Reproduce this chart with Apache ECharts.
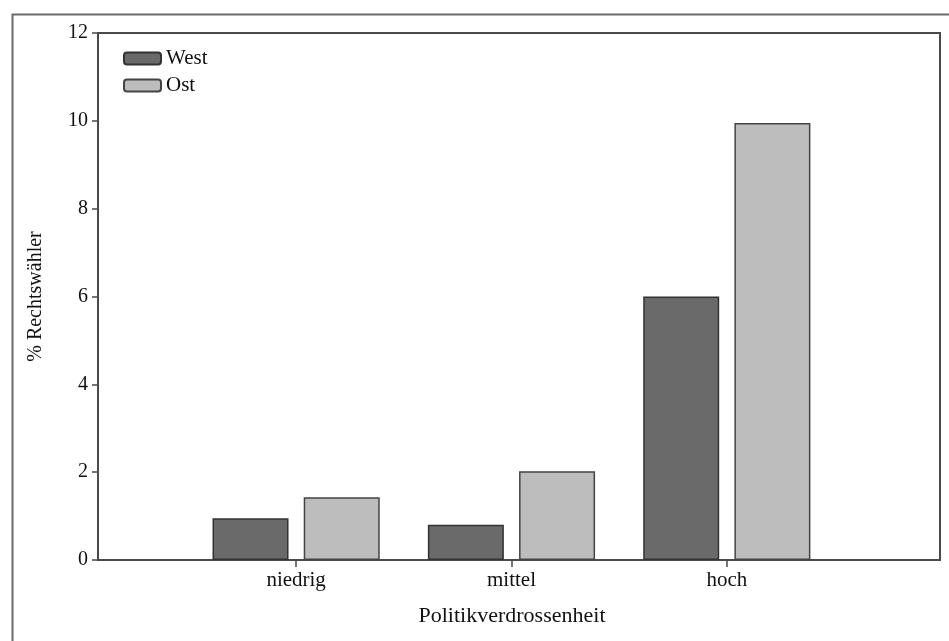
<!DOCTYPE html>
<html>
<head>
<meta charset="utf-8">
<script src="https://cdn.jsdelivr.net/npm/echarts@6/dist/echarts.min.js"></script>
<style>
html,body{margin:0;padding:0;background:#fff;}
#chart{width:949px;height:641px;}
</style>
</head>
<body>
<div id="chart"></div>
<script>
// ---- data ----
var categories = ['niedrig', 'mittel', 'hoch'];
var westValues = [0.95, 0.8, 6.0];
var ostValues = [1.43, 2.02, 9.95];
var seriesNames = ['West', 'Ost'];
var yTicks = [0, 2, 4, 6, 8, 10, 12];
var xAxisTitle = 'Politikverdrossenheit';
var yAxisTitle = '% Rechtswähler';

// category positions on the numeric x scale
var catPos = categories.map(function (c, i) { return i + 1; });
function pairs(vals) { return vals.map(function (v, i) { return [catPos[i], v]; }); }

var font = 'Liberation Serif';
var chart = echarts.init(document.getElementById('chart'), null, {renderer: 'canvas'});
chart.setOption({
  backgroundColor: '#fff',
  animation: false,
  graphic: [{
    type: 'rect',
    left: 10, top: 12,
    shape: {width: 960, height: 660},
    style: {fill: 'none', stroke: '#6a6a6a', lineWidth: 2},
    silent: true
  }],
  grid: {
    left: 98, right: 9, top: 33, bottom: 81,
    show: true, borderColor: '#4a4a4a', borderWidth: 2, backgroundColor: 'transparent'
  },
  legend: {
    orient: 'vertical',
    left: 118, top: 43,
    itemWidth: 37, itemHeight: 12, itemGap: 6,
    icon: 'roundRect',
    textStyle: {fontFamily: font, fontSize: 21, color: '#111'},
    data: seriesNames
  },
  xAxis: {
    type: 'value',
    min: 0.08, max: 3.99,
    name: xAxisTitle,
    nameLocation: 'middle',
    nameGap: 45,
    nameTextStyle: {fontFamily: font, fontSize: 22, color: '#111', padding: [0, 14, 0, 0]},
    axisLine: {show: true, lineStyle: {color: '#4a4a4a', width: 2}},
    axisTick: {show: true, customValues: catPos, length: 7, lineStyle: {color: '#4a4a4a', width: 1.5}},
    axisLabel: {
      customValues: catPos,
      fontFamily: font, fontSize: 21, color: '#111', margin: 10,
      formatter: function (v) { return categories[Math.round(v) - 1] || ''; }
    },
    splitLine: {show: false}
  },
  yAxis: {
    type: 'value',
    min: yTicks[0], max: yTicks[yTicks.length - 1], interval: yTicks[1] - yTicks[0],
    name: yAxisTitle,
    nameLocation: 'middle',
    nameRotate: 90,
    nameGap: 52,
    nameTextStyle: {fontFamily: font, fontSize: 20, color: '#111'},
    axisLine: {show: true, lineStyle: {color: '#4a4a4a', width: 2}},
    axisTick: {show: true, length: 6, lineStyle: {color: '#4a4a4a', width: 1.5}},
    axisLabel: {fontFamily: font, fontSize: 20, color: '#111', margin: 10},
    splitLine: {show: false}
  },
  series: [{
    name: seriesNames[0],
    type: 'bar',
    barWidth: 76,
    barGap: '20%',
    data: pairs(westValues),
    itemStyle: {color: '#6a6a6a', borderColor: '#333', borderWidth: 1.5}
  }, {
    name: seriesNames[1],
    type: 'bar',
    barWidth: 76,
    barGap: '20%',
    data: pairs(ostValues),
    itemStyle: {color: '#bdbdbd', borderColor: '#444', borderWidth: 1.5}
  }]
});
</script>
</body>
</html>
